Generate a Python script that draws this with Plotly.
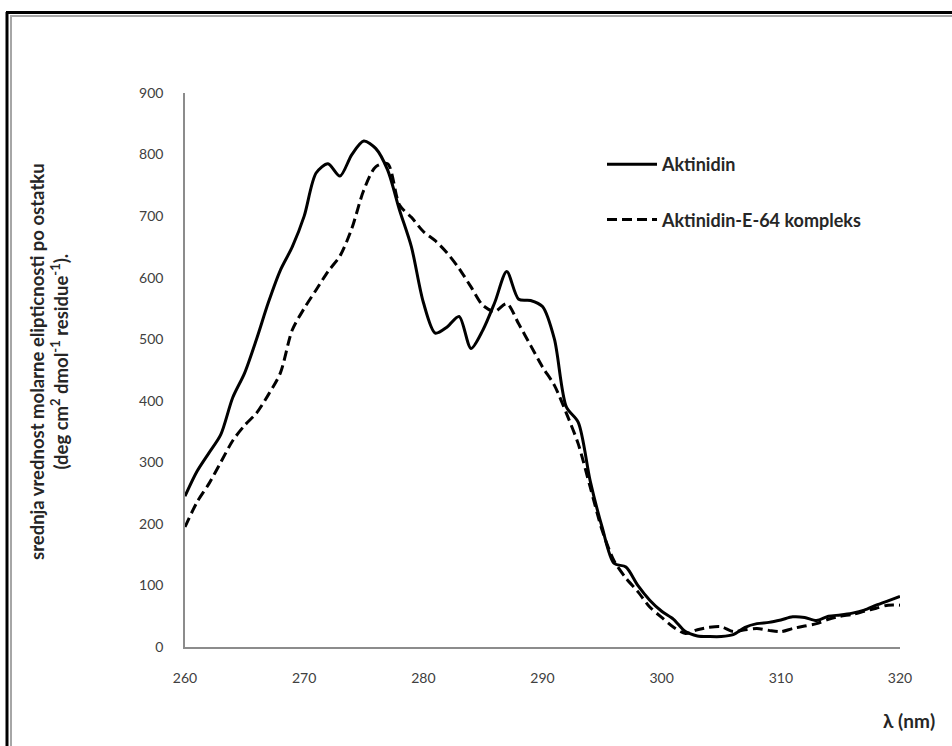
import plotly.graph_objects as go

# Wavelength grid (nm)
wavelength = list(range(260, 321))

# Mean residue ellipticity, native enzyme
aktinidin = [245, 285, 315, 345, 405, 445, 500, 560, 612, 650,
             700, 770, 785, 765, 800, 822, 810, 775, 710, 650,
             560, 510, 520, 537, 485, 515, 560, 610, 565, 563,
             553, 500, 390, 365, 270, 195, 136, 130, 100, 76,
             58, 45, 25, 18, 17, 17, 20, 32, 38, 40,
             44, 49, 48, 43, 50, 52, 55, 60, 68, 75,
             82]

# Mean residue ellipticity, inhibitor complex
kompleks = [195, 235, 265, 300, 335, 360, 380, 410, 445, 515,
            550, 580, 610, 635, 680, 742, 780, 785, 718, 698,
            675, 660, 640, 615, 585, 555, 545, 558, 525, 490,
            455, 425, 380, 330, 260, 190, 140, 112, 90, 65,
            48, 32, 22, 28, 32, 33, 25, 28, 30, 27,
            25, 30, 34, 38, 45, 50, 53, 58, 63, 68,
            68]

x_ticks = [260, 270, 280, 290, 300, 310, 320]
y_ticks = [0, 100, 200, 300, 400, 500, 600, 700, 800, 900]

W, H = 952, 746
L, R, T, B = 185, 52, 93, 99
PW, PH = W - L - R, H - T - B
FONT = "Lato, 'Open Sans', sans-serif"


def px(x):
    return (x - L) / PW


def py(y):
    return (H - B - y) / PH


fig = go.Figure()
fig.add_trace(go.Scatter(
    x=wavelength, y=aktinidin, mode="lines", name="Aktinidin",
    line=dict(color="black", width=3, shape="spline", smoothing=0.8),
    legendgroup="a"))
fig.add_trace(go.Scatter(
    x=wavelength, y=kompleks, mode="lines", name="Aktinidin-E-64 kompleks",
    line=dict(color="black", width=3, dash="10px,5px", shape="spline", smoothing=0.8),
    legendgroup="b"))

tick_font = dict(family=FONT, size=14, color="#404040")

fig.update_layout(
    width=W, height=H,
    margin=dict(l=L, r=R, t=T, b=B),
    paper_bgcolor="white", plot_bgcolor="white",
    showlegend=True,
    legend=dict(x=px(602), y=py(146), xanchor="left", yanchor="top",
                traceorder="grouped", tracegroupgap=29,
                itemwidth=50,
                font=dict(family=FONT, size=18, color="#262626", weight="bold"),
                bgcolor="rgba(0,0,0,0)"),
    xaxis=dict(range=[260, 320], tickvals=x_ticks, showgrid=False, zeroline=False,
               showline=True, linecolor="#8c8c8c", linewidth=1.5,
               ticks="", tickfont=tick_font, ticklabelstandoff=17),
    yaxis=dict(range=[0, 900], tickvals=y_ticks, showgrid=False, zeroline=False,
               showline=True, linecolor="#8c8c8c", linewidth=1.5,
               ticks="", tickfont=tick_font, ticklabelstandoff=17),
    annotations=[
        dict(text="<b>λ (nm)</b>", xref="paper", yref="paper",
             x=px(937), y=py(720), xanchor="right", yanchor="middle",
             showarrow=False,
             font=dict(family=FONT, size=19, color="#262626")),
        dict(text="<b>srednja vrednost molarne elipticnosti po ostatku</b><br>"
                  "<b>(deg cm<sup>2</sup> dmol<sup>-1</sup> residue<sup>-1</sup>).</b>",
             xref="paper", yref="paper", x=px(49), y=py(362),
             xanchor="center", yanchor="middle", textangle=-90, showarrow=False,
             align="center",
             font=dict(family=FONT, size=18.5, color="#262626")),
    ],
    shapes=[
        # outer black frame
        dict(type="line", xref="paper", yref="paper", x0=px(7), x1=px(7),
             y0=py(12), y1=py(760), line=dict(color="black", width=3)),
        dict(type="line", xref="paper", yref="paper", x0=px(6), x1=px(960),
             y0=py(12.5), y1=py(12.5), line=dict(color="black", width=3)),
        # inner grey frame
        dict(type="line", xref="paper", yref="paper", x0=px(11), x1=px(11),
             y0=py(16), y1=py(760), line=dict(color="#a6a6a6", width=2)),
        dict(type="line", xref="paper", yref="paper", x0=px(10), x1=px(960),
             y0=py(16), y1=py(16), line=dict(color="#a6a6a6", width=2)),
    ],
)

fig.write_html("out.html")
